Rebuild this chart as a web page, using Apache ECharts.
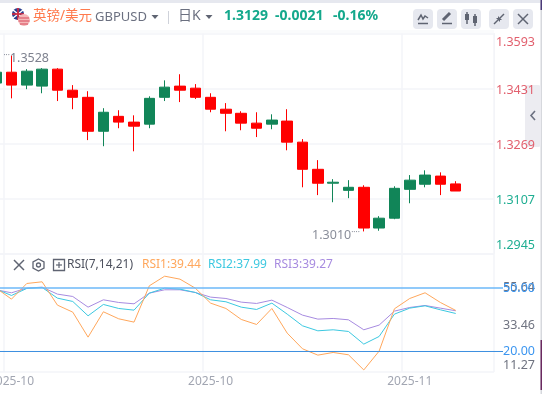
<!DOCTYPE html>
<html>
<head>
<meta charset="utf-8">
<title>GBPUSD</title>
<style>
  html, body { margin: 0; padding: 0; background: #fff; }
  #chart { width: 542px; height: 394px; }
</style>
</head>
<body>
<div id="chart"></div>
<script src="https://cdn.jsdelivr.net/npm/echarts@6/dist/echarts.min.js"></script>
<script>
// open, close, low, high
const candles = [
  [1.3447, 1.3479, 1.3441, 1.3491], [1.3479, 1.3441, 1.3402, 1.3528], [1.3441, 1.3482, 1.3429, 1.3488],
  [1.3438, 1.3488, 1.3417, 1.3491], [1.3488, 1.3426, 1.3394, 1.3491], [1.3426, 1.3405, 1.3370, 1.3441],
  [1.3405, 1.3305, 1.3279, 1.3423], [1.3305, 1.3361, 1.3261, 1.3373], [1.3349, 1.3332, 1.3314, 1.3367],
  [1.3332, 1.3320, 1.3246, 1.3352], [1.3326, 1.3402, 1.3314, 1.3408], [1.3405, 1.3435, 1.3394, 1.3455],
  [1.3438, 1.3426, 1.3391, 1.3473], [1.3432, 1.3405, 1.3400, 1.3444], [1.3405, 1.3370, 1.3361, 1.3417],
  [1.3370, 1.3358, 1.3305, 1.3388], [1.3358, 1.3329, 1.3308, 1.3364], [1.3329, 1.3314, 1.3288, 1.3361],
  [1.3326, 1.3338, 1.3311, 1.3355], [1.3335, 1.3273, 1.3249, 1.3370], [1.3273, 1.3193, 1.3140, 1.3282],
  [1.3193, 1.3152, 1.3117, 1.3220], [1.3152, 1.3155, 1.3096, 1.3164], [1.3131, 1.3140, 1.3108, 1.3161],
  [1.3140, 1.3020, 1.3010, 1.3146], [1.3020, 1.3049, 1.3012, 1.3055], [1.3049, 1.3137, 1.3046, 1.3143],
  [1.3134, 1.3161, 1.3093, 1.3176], [1.3149, 1.3176, 1.3140, 1.3190], [1.3173, 1.3149, 1.3117, 1.3184],
  [1.3150, 1.3129, 1.3129, 1.3158]
]
const rsi1 = [49.98, 44.78, 52.19, 52.98, 41.94, 38.63, 26.80, 38.79, 35.47, 33.90, 51.09, 55.64, 54.24, 49.98, 42.89, 40.36,
  35.16, 32.79, 40.36, 28.69, 21.28, 18.28, 19.54, 18.44, 11.27, 20.17, 40.20, 45.09, 47.78, 43.20, 39.44]
const rsi2 = [49.51, 46.51, 49.83, 50.30, 45.25, 43.68, 36.89, 42.26, 40.36, 39.57, 47.62, 49.98, 49.51, 47.93, 44.46, 43.52,
  40.99, 39.89, 42.89, 37.68, 32.16, 29.79, 30.27, 29.48, 23.49, 27.11, 37.68, 40.52, 41.62, 39.73, 37.99]
const rsi3 = [49.20, 47.78, 49.98, 50.46, 47.15, 46.04, 40.99, 44.46, 43.20, 42.57, 47.62, 49.20, 49.20, 47.93, 45.73, 45.09,
  43.36, 42.73, 44.31, 40.84, 37.21, 35.32, 35.63, 35.00, 30.27, 32.48, 39.10, 40.84, 41.78, 40.52, 39.27]
const months = ['2025-10', '2025-10', '2025-10', '2025-10', '2025-10', '2025-10', '2025-10', '2025-10', '2025-10', '2025-10', '2025-10',
  '2025-10', '2025-10', '2025-10', '2025-10', '2025-10', '2025-10', '2025-10', '2025-10', '2025-10', '2025-10', '2025-10',
  '2025-10', '2025-10', '2025-10', '2025-10', '2025-10', '2025-11', '2025-11', '2025-11', '2025-11', '2025-11', '2025-11']
const monthTicks = [1, 14, 27]
const priceTicks = [1.2945, 1.3107, 1.3269, 1.3431, 1.3593]
const rsiTicks = [11.27, 33.46, 55.64]
const rsiLevels = [20, 50]

const FONT = '"Noto Sans", "Noto Sans CJK SC", sans-serif'
const RED = '#ff0000'
const GREEN = '#118558'
const GRID = '#f3f4f8'
const ICON = '#5f6472'
const PRICE_UP = '#e2606e'
const PRICE_DOWN = '#1fae92'

const isMonthTick = (i) => monthTicks.includes(i)

function txt(x, y, text, fill, size, weight) {
  return {
    type: 'text',
    z: 5,
    style: { x, y, text, fill, font: `${weight || 'normal'} ${size}px ${FONT}`, verticalAlign: 'middle', align: 'left' }
  }
}
function box(x, y, w, h, fill, r) {
  return { type: 'rect', shape: { x, y, width: w, height: h, r: r || 0 }, style: { fill } }
}
function stroke(points, color, lineWidth) {
  return { type: 'polyline', z: 5, shape: { points }, style: { stroke: color || ICON, fill: null, lineWidth: lineWidth || 1.5 } }
}
function tri(cx, cy) {
  return { type: 'polygon', z: 5, shape: { points: [[cx - 3.5, cy - 2], [cx + 3.5, cy - 2], [cx, cy + 2]] }, style: { fill: ICON } }
}

const graphics = [
  // frame
  box(0, 0, 540, 3, '#e6e8ef'),
  box(0, 30, 494, 3, '#fafbfc'),
  box(540.5, 0, 1.5, 394, '#d6d8dd'),
  box(540.5, 0, 1.5, 10, '#4a3a78'),
  box(540.5, 340, 1.5, 50, '#6a2a60'),
  box(525, 85, 16, 62, '#ececf1', 3),
  stroke([[535, 111], [531, 115.5], [535, 120]], '#6b7080', 1.6),
  // flags
  { type: 'circle', z: 5, shape: { cx: 18, cy: 14, r: 6 }, style: { fill: '#2a3f8f' } },
  stroke([[13, 10], [23, 18]], '#ffffff', 1.4),
  stroke([[23, 10], [13, 18]], '#ffffff', 1.4),
  stroke([[18, 8], [18, 20]], '#d8283c', 1.6),
  stroke([[12, 14], [24, 14]], '#d8283c', 1.6),
  { type: 'circle', z: 5, shape: { cx: 24, cy: 20, r: 6 }, style: { fill: '#f4b8b8' } },
  stroke([[19, 18], [29, 18]], '#d8485c', 1),
  stroke([[18.5, 21], [29.5, 21]], '#d8485c', 1),
  stroke([[20, 24], [28, 24]], '#d8485c', 1),
  // header
  txt(33, 16, '英镑/美元', '#ff7a4d', 13.5),
  txt(95, 17, 'GBPUSD', '#6b7080', 13),
  tri(155, 17),
  box(168, 11, 1, 13, '#cfd2da'),
  txt(178, 16, '日K', '#6b7080', 14),
  tri(209, 17),
  txt(224, 16, '1.3129', '#14a88c', 14, 'bold'),
  txt(275, 16, '-0.0021', '#14a88c', 14, 'bold'),
  txt(333, 16, '-0.16%', '#14a88c', 14, 'bold'),
  // toolbar
  box(413, 9, 20, 20, '#e6e8ef', 4),
  box(437, 9, 20, 20, '#e6e8ef', 4),
  box(461, 9, 20, 20, '#e6e8ef', 4),
  box(489, 9, 20, 20, '#e6e8ef', 4),
  box(513, 9, 20, 20, '#e6e8ef', 4),
  stroke([[418, 20], [421, 15], [423, 19], [425, 16], [428, 18]]),
  stroke([[418, 23.5], [428, 23.5]]),
  stroke([[443, 20], [450, 13]], ICON, 3),
  stroke([[442, 23.5], [452, 23.5]]),
  stroke([[467, 12], [467, 24]]),
  box(465, 14, 4, 6, ICON),
  stroke([[475, 14], [475, 26]]),
  box(473, 16, 4, 7, ICON),
  stroke([[494, 24], [498, 20]]),
  stroke([[500, 18], [504, 14]]),
  { type: 'polygon', z: 5, shape: { points: [[500, 18], [500, 22], [496, 18]] }, style: { fill: ICON } },
  { type: 'polygon', z: 5, shape: { points: [[498, 20], [498, 16], [502, 20]] }, style: { fill: ICON } },
  stroke([[518, 14], [528, 24]]),
  stroke([[528, 14], [518, 24]]),
  // rsi toolbar
  stroke([[14, 260], [24, 270]]),
  stroke([[24, 260], [14, 270]]),
  { type: 'polygon', z: 5, shape: { points: [[38.5, 259], [44, 262], [44, 268], [38.5, 271], [33, 268], [33, 262]] }, style: { fill: null, stroke: ICON, lineWidth: 1.3 } },
  { type: 'circle', z: 5, shape: { cx: 38.5, cy: 265, r: 2 }, style: { fill: null, stroke: ICON, lineWidth: 1.3 } },
  { type: 'rect', z: 5, shape: { x: 53.5, y: 259.5, width: 11, height: 11 }, style: { fill: null, stroke: ICON, lineWidth: 1.3 } },
  stroke([[56, 265], [62, 265]], ICON, 1.2),
  stroke([[59, 262], [59, 268]], ICON, 1.2),
  txt(67, 265, 'RSI(7,14,21)', '#4d515e', 12),
  txt(142, 265, 'RSI1:39.44', '#ffa75c', 12),
  txt(208, 265, 'RSI2:37.99', '#3cc8e0', 12),
  txt(274, 265, 'RSI3:39.27', '#a78be0', 12)
]

const option = {
  animation: false,
  backgroundColor: '#fff',
  textStyle: { fontFamily: FONT },
  graphic: { elements: graphics },
  grid: [
    { left: -11.5, right: 48, top: 33.5, height: 220, outerBoundsMode: 'none' },
    { left: -11.5, right: 48, top: 254.1, height: 118, outerBoundsMode: 'none' },
    { left: 0, right: 39, top: 254.1, height: 118, outerBoundsMode: 'none' }
  ],
  xAxis: [
    {
      type: 'category', gridIndex: 0, data: months,
      axisLine: { show: false }, axisLabel: { show: false },
      axisTick: { show: false, alignWithLabel: true, interval: (i) => isMonthTick(i) },
      splitLine: { show: true, interval: (i) => isMonthTick(i), lineStyle: { color: GRID, width: 1.5 } }
    },
    {
      type: 'category', gridIndex: 1, data: months,
      axisLine: { show: false },
      axisTick: { show: false, alignWithLabel: true, interval: (i) => isMonthTick(i) },
      axisLabel: { interval: (i) => isMonthTick(i), color: '#a2a6b2', fontSize: 12, margin: 3 },
      splitLine: { show: true, interval: (i) => isMonthTick(i), lineStyle: { color: GRID, width: 1.5 } }
    },
    { type: 'value', gridIndex: 2, min: 0, max: 1, show: false }
  ],
  yAxis: [
    {
      type: 'value', gridIndex: 0, position: 'right', min: 1.2945, max: 1.3593, scale: true,
      axisLine: { show: true, lineStyle: { color: GRID } },
      axisTick: { show: false, customValues: priceTicks },
      splitLine: { show: true, lineStyle: { color: GRID, width: 1.5 } },
      axisLabel: {
        customValues: priceTicks,
        align: 'right', margin: 41, fontSize: 12.5,
        verticalAlignMaxLabel: 'top', verticalAlignMinLabel: 'bottom',
        formatter: (v) => {
          const key = v === priceTicks[0] ? 'low' : (v > 1.3129 ? 'up' : 'down')
          return '{' + key + '|' + v.toFixed(4) + '}'
        },
        rich: {
          up: { padding: [3, 0, 0, 0], fontSize: 12.5, color: PRICE_UP },
          down: { padding: [3, 0, 0, 0], fontSize: 12.5, color: PRICE_DOWN },
          low: { padding: [0, 0, 2, 0], fontSize: 12.5, color: PRICE_DOWN }
        }
      }
    },
    {
      type: 'value', gridIndex: 1, position: 'right', min: 10.25, max: 66.09, scale: true,
      axisLine: { show: false },
      axisTick: { show: false, customValues: [10.25, 66.09] },
      splitLine: { show: true, lineStyle: { color: GRID, width: 1.5 } },
      axisLabel: {
        customValues: rsiTicks,
        align: 'right', margin: 41, fontSize: 12.5, color: '#6f7380',
        formatter: (v) => {
          const i = rsiTicks.indexOf(v)
          return '{' + ['lo', 'mid', 'hi'][i] + '|' + v.toFixed(2) + '}'
        },
        rich: {
          lo: { padding: [0, 0, 10, 0], fontSize: 12.5, color: '#6f7380' },
          mid: { padding: [5, 0, 0, 0], fontSize: 12.5, color: '#6f7380' },
          hi: { padding: [23, 0, 0, 0], fontSize: 12.5, color: '#6f7380' }
        }
      }
    },
    {
      type: 'value', gridIndex: 2, position: 'right', min: 10.25, max: 66.09, scale: true,
      axisLine: { show: false },
      axisTick: { show: false, customValues: rsiLevels },
      splitLine: { show: false },
      axisLabel: {
        customValues: rsiLevels,
        align: 'right', margin: 32, fontSize: 12.5, color: '#3c96f0',
        formatter: (v) => v.toFixed(2)
      }
    }
  ],
  series: [
    {
      type: 'candlestick', xAxisIndex: 0, yAxisIndex: 0, data: candles, barWidth: 11,
      itemStyle: { color: GREEN, color0: RED, borderColor: GREEN, borderColor0: RED, borderWidth: 1 },
      markPoint: {
        symbol: 'circle', symbolSize: 0, silent: true,
        data: [
          {
            coord: [1, 1.3528],
            label: { show: true, position: 'right', offset: [-13, 3], formatter: '{d|···}{v|1.3528}',
              rich: { d: { color: '#8a8e9a', fontSize: 8, padding: [0, 0, 5, 0] }, v: { color: '#7d818e', fontSize: 12.5 } } }
          },
          {
            coord: [24, 1.3010],
            label: { show: true, position: 'left', offset: [1, 4], formatter: '{v|1.3010}{d|····}',
              rich: { d: { color: '#8a8e9a', fontSize: 8, padding: [0, 0, 5, 0] }, v: { color: '#8a8e9a', fontSize: 12.5 } } }
          }
        ]
      }
    },
    { type: 'line', name: 'RSI3', xAxisIndex: 1, yAxisIndex: 1, data: rsi3, symbol: 'none', lineStyle: { color: '#a78be0', width: 1 } },
    { type: 'line', name: 'RSI2', xAxisIndex: 1, yAxisIndex: 1, data: rsi2, symbol: 'none', lineStyle: { color: '#3cc8e0', width: 1 } },
    { type: 'line', name: 'RSI1', xAxisIndex: 1, yAxisIndex: 1, data: rsi1, symbol: 'none', lineStyle: { color: '#ffa75c', width: 1 } },
    { type: 'line', name: 'level50', xAxisIndex: 2, yAxisIndex: 2, data: [[0, rsiLevels[1]], [1, rsiLevels[1]]], symbol: 'none', silent: true, lineStyle: { color: '#6cb8f8', width: 1.5 } },
    { type: 'line', name: 'level20', xAxisIndex: 2, yAxisIndex: 2, data: [[0, rsiLevels[0]], [1, rsiLevels[0]]], symbol: 'none', silent: true, lineStyle: { color: '#3c8fe0', width: 1 } }
  ]
}

const myChart = echarts.init(document.getElementById('chart'), null, { renderer: 'canvas' })
myChart.setOption(option)
</script>
</body>
</html>
